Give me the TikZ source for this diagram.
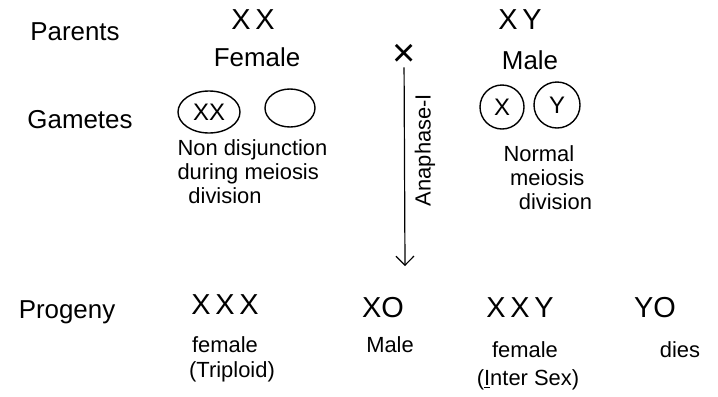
\documentclass[tikz,border=0pt]{standalone}
\usepackage{fontspec}
\setmainfont{Liberation Sans}
\usetikzlibrary{shapes.geometric,arrows.meta}
\begin{document}
\begin{tikzpicture}[x=1bp,y=-1bp,
  >={Straight Barb[length=9bp,width=18bp]},
  lbl/.style={font=\fontsize{26}{30}\selectfont},
  chrom/.style={font=\fontsize{29}{32}\selectfont},
  note/.style={font=\fontsize{22}{24}\selectfont,align=left},
  gam/.style={draw,line width=1.4pt,inner sep=0pt,font=\fontsize{24}{28}\selectfont}]
\useasboundingbox (0,0) rectangle (718,396);

% parents
\node[lbl] (parents) at (75,32) {Parents};
\node[chrom] (xx) at (253,20) {X\,X};
\node[lbl] (female) at (257,57) {Female};
\node[font=\fontsize{40}{40}\selectfont,inner sep=1pt] (cross) at (404,55) {×};
\node[chrom] (xy) at (520,20) {X\,Y};
\node[lbl] (male) at (530,60) {Male};

% gametes
\node[lbl] (gametes) at (80,120) {Gametes};
\node[gam,ellipse,minimum width=62bp,minimum height=42bp] (gxx) at (209,112) {XX};
\node[gam,ellipse,minimum width=50bp,minimum height=38bp] (gnull) at (290,108) {};
\node[gam,circle,minimum size=44bp] (gx) at (502,107) {X};
\node[gam,circle,minimum size=46bp] (gy) at (557,105) {Y};

\node[note,anchor=north west] (nondis) at (174,136) {Non disjunction\\during meiosis\\\hspace*{0.5em}division};
\node[note,anchor=north west] (normal) at (500,142) {Normal\\\hspace*{0.3em}meiosis\\\hspace*{0.7em}division};

% anaphase arrow
\coordinate (arrowend) at (405,266);
\draw[->,line width=1.2pt] (cross) -- (arrowend);
\node[note,rotate=90] (anaphase) at (425,150) {Anaphase-I};

% progeny
\node[lbl] (progeny) at (67,312) {Progeny};
\node[chrom] (xxx) at (225,305) {X\,X\,X};
\node[note] (fem1) at (225,345) {female};
\node[note] (trip) at (232,372) {(Triploid)};
\node[chrom] (xo) at (383,308) {XO};
\node[note] (male2) at (390,345) {Male};
\node[chrom] (xxy) at (520,308) {X\,X\,Y};
\node[note] (fem2) at (525,350) {female};
\node[note] (intersex) at (528,380) {(\underline{I}nter Sex)};
\node[chrom] (yo) at (655,308) {YO};
\node[note] (dies) at (680,350) {dies};
\end{tikzpicture}
\end{document}
